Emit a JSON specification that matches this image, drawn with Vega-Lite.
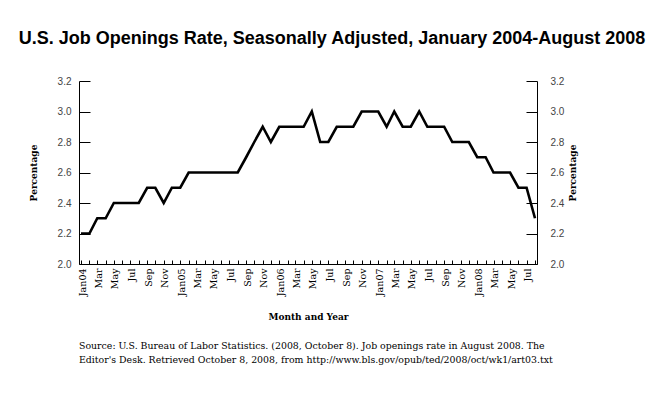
{
  "$schema": "https://vega.github.io/schema/vega-lite/v6.json",
  "padding": {"left": 18, "top": 30, "right": 22, "bottom": 28},
  "background": "white",
  "title": {
    "text": "U.S. Job Openings Rate, Seasonally Adjusted, January 2004-August 2008",
    "font": "Liberation Sans",
    "fontSize": 18,
    "fontWeight": "bold",
    "color": "black",
    "anchor": "middle",
    "frame": "group",
    "dx": 24,
    "offset": 28
  },
  "datasets": {
    "jolts": [
      {"date": "2004-01-01", "rate": 2.2}, {"date": "2004-02-01", "rate": 2.2}, {"date": "2004-03-01", "rate": 2.3}, {"date": "2004-04-01", "rate": 2.3},
      {"date": "2004-05-01", "rate": 2.4}, {"date": "2004-06-01", "rate": 2.4}, {"date": "2004-07-01", "rate": 2.4}, {"date": "2004-08-01", "rate": 2.4},
      {"date": "2004-09-01", "rate": 2.5}, {"date": "2004-10-01", "rate": 2.5}, {"date": "2004-11-01", "rate": 2.4}, {"date": "2004-12-01", "rate": 2.5},
      {"date": "2005-01-01", "rate": 2.5}, {"date": "2005-02-01", "rate": 2.6}, {"date": "2005-03-01", "rate": 2.6}, {"date": "2005-04-01", "rate": 2.6},
      {"date": "2005-05-01", "rate": 2.6}, {"date": "2005-06-01", "rate": 2.6}, {"date": "2005-07-01", "rate": 2.6}, {"date": "2005-08-01", "rate": 2.6},
      {"date": "2005-09-01", "rate": 2.7}, {"date": "2005-10-01", "rate": 2.8}, {"date": "2005-11-01", "rate": 2.9}, {"date": "2005-12-01", "rate": 2.8},
      {"date": "2006-01-01", "rate": 2.9}, {"date": "2006-02-01", "rate": 2.9}, {"date": "2006-03-01", "rate": 2.9}, {"date": "2006-04-01", "rate": 2.9},
      {"date": "2006-05-01", "rate": 3.0}, {"date": "2006-06-01", "rate": 2.8}, {"date": "2006-07-01", "rate": 2.8}, {"date": "2006-08-01", "rate": 2.9},
      {"date": "2006-09-01", "rate": 2.9}, {"date": "2006-10-01", "rate": 2.9}, {"date": "2006-11-01", "rate": 3.0}, {"date": "2006-12-01", "rate": 3.0},
      {"date": "2007-01-01", "rate": 3.0}, {"date": "2007-02-01", "rate": 2.9}, {"date": "2007-03-01", "rate": 3.0}, {"date": "2007-04-01", "rate": 2.9},
      {"date": "2007-05-01", "rate": 2.9}, {"date": "2007-06-01", "rate": 3.0}, {"date": "2007-07-01", "rate": 2.9}, {"date": "2007-08-01", "rate": 2.9},
      {"date": "2007-09-01", "rate": 2.9}, {"date": "2007-10-01", "rate": 2.8}, {"date": "2007-11-01", "rate": 2.8}, {"date": "2007-12-01", "rate": 2.8},
      {"date": "2008-01-01", "rate": 2.7}, {"date": "2008-02-01", "rate": 2.7}, {"date": "2008-03-01", "rate": 2.6}, {"date": "2008-04-01", "rate": 2.6},
      {"date": "2008-05-01", "rate": 2.6}, {"date": "2008-06-01", "rate": 2.5}, {"date": "2008-07-01", "rate": 2.5}, {"date": "2008-08-01", "rate": 2.3}
    ]
  },
  "vconcat": [
    {
      "width": 458,
      "height": 183,
      "title": {
        "text": [
          "Source: U.S. Bureau of Labor Statistics. (2008, October 8). Job openings rate in August 2008. The",
          "Editor's Desk. Retrieved October 8, 2008, from http://www.bls.gov/opub/ted/2008/oct/wk1/art03.txt"
        ],
        "orient": "bottom",
        "anchor": "start",
        "frame": "group",
        "font": "DejaVu Serif",
        "fontSize": 9.4,
        "fontWeight": "normal",
        "color": "black",
        "lineHeight": 14,
        "offset": 20
      },
      "data": {"name": "jolts"},
      "layer": [
        {
          "mark": {"type": "line", "color": "black", "strokeWidth": 2.6, "strokeJoin": "miter"},
          "encoding": {
            "x": {
              "field": "date",
              "type": "temporal",
              "scale": {"type": "utc", "nice": false, "padding": 2},
              "axis": {
                "title": "Month and Year",
                "titleFont": "DejaVu Serif",
                "titleFontSize": 9,
                "titleFontWeight": "bold",
                "titleColor": "black",
                "titlePadding": 17,
                "tickCount": {"interval": "month", "step": 1},
                "labelExpr": "utcmonth(datum.value) == 0 ? utcFormat(datum.value, '%b%y') : (utcmonth(datum.value) % 2 == 0 ? utcFormat(datum.value, '%b') : '')",
                "labelAngle": 270,
                "labelFont": "DejaVu Serif",
                "labelFontSize": 9.5,
                "labelColor": "black",
                "labelPadding": 8,
                "labelOffset": 1,
                "labelOverlap": false,
                "labelBound": false,
                "labelFlush": false,
                "tickSize": -4,
                "tickColor": "black",
                "domainColor": "black",
                "grid": false
              }
            },
            "y": {
              "field": "rate",
              "type": "quantitative",
              "scale": {"domain": [2.0, 3.2], "nice": false, "zero": false},
              "axis": {
                "orient": "left",
                "title": "Percentage",
                "titleFont": "DejaVu Serif",
                "titleFontSize": 9,
                "titleFontWeight": "bold",
                "titleColor": "black",
                "titlePadding": 19,
                "values": [2.0, 2.2, 2.4, 2.6, 2.8, 3.0, 3.2],
                "format": ".1f",
                "labelFont": "Liberation Sans",
                "labelFontSize": 10,
                "labelColor": "#444444",
                "labelPadding": 19,
                "tickSize": -11,
                "tickColor": "black",
                "domainColor": "black",
                "grid": false
              }
            }
          }
        },
        {
          "mark": {"type": "line", "strokeOpacity": 0},
          "encoding": {
            "x": {"field": "date", "type": "temporal"},
            "y": {
              "field": "rate",
              "type": "quantitative",
              "axis": {
                "orient": "right",
                "title": "Percentage",
                "titleAngle": 270,
                "titleFont": "DejaVu Serif",
                "titleFontSize": 9,
                "titleFontWeight": "bold",
                "titleColor": "black",
                "titlePadding": 14,
                "values": [2.0, 2.2, 2.4, 2.6, 2.8, 3.0, 3.2],
                "format": ".1f",
                "labelFont": "Liberation Sans",
                "labelFontSize": 10,
                "labelColor": "#444444",
                "labelPadding": 24,
                "tickSize": -11,
                "tickColor": "black",
                "domainColor": "black",
                "grid": false
              }
            }
          }
        }
      ],
      "resolve": {"axis": {"y": "independent"}}
    }
  ],
  "config": {
    "view": {"stroke": null},
    "axis": {"domainWidth": 1, "tickWidth": 1}
  }
}
